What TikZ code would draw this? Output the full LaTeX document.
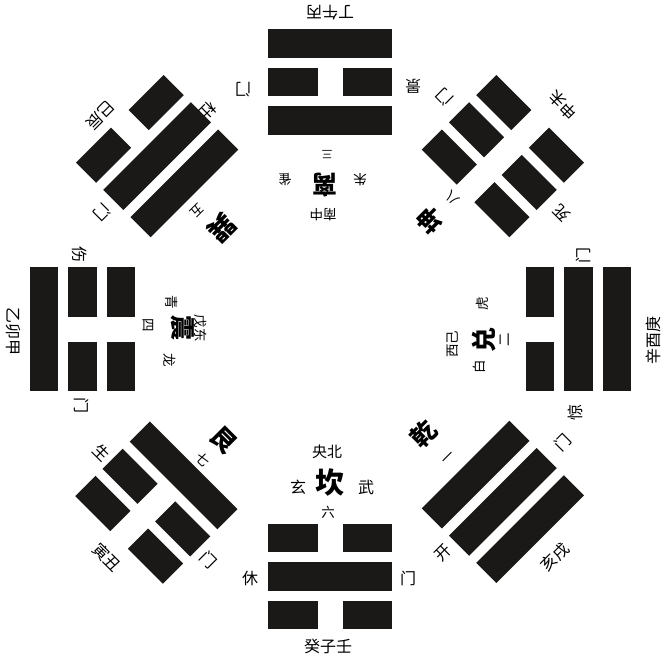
\documentclass[tikz,border=0pt]{standalone}
\usepackage{fontspec}
\newfontfamily\cjk{Noto Sans CJK SC}
\definecolor{yaoc}{HTML}{1B1918}
\tikzset{
  yao/.style={fill=yaoc},
  lab/.style={inner sep=0pt, font=\cjk\fontsize{16}{16}\selectfont},
  sml/.style={inner sep=0pt, font=\cjk\fontsize{13.5}{14}\selectfont},
  big/.style={inner sep=0pt, font=\cjk\bfseries\fontsize{25}{25}\selectfont},
}
\newcommand\yaoline[2]{%
  \ifnum#2=1
    \fill[yao] (268,{329+#1-14.25}) rectangle (392,{329+#1+14.25});
  \else
    \fill[yao] (268,{329+#1-14.25}) rectangle (317.5,{329+#1+14.25});
    \fill[yao] (342.5,{329+#1-14.25}) rectangle (392,{329+#1+14.25});
  \fi}
\newcommand\trig[5]{%
  \begin{scope}[rotate around={#1:(330,329)}]
    \yaoline{#2}{#3}
    \yaoline{#2+38.5}{#4}
    \yaoline{#2+77}{#5}
  \end{scope}}
\begin{document}
\begin{tikzpicture}[x=1pt,y=-1pt]
\useasboundingbox[fill=white] (0,0) rectangle (669,659);
% trigrams: angle, inner distance, inner/middle/outer line
\trig{0}{209}{0}{1}{0}      % Kan
\trig{-45}{207}{1}{0}{0}    % Gen
\trig{-90}{209}{0}{0}{1}    % Zhen
\trig{-135}{206}{1}{1}{0}   % Xun
\trig{180}{208.5}{1}{0}{1}  % Li
\trig{135}{206}{0}{0}{0}    % Kun
\trig{90}{210}{0}{1}{1}     % Dui
\trig{45}{206}{1}{1}{1}     % Qian
% Kan
\node[lab,font=\cjk\fontsize{15}{15}\selectfont] (kan1) at (327,452) {央北};
\node[lab] (kan2) at (298,487) {玄};
\node[big,font=\cjk\bfseries\fontsize{29}{29}\selectfont] (kan) at (330,482) {坎};
\node[lab] (kan3) at (366,487) {武};
\node[sml] (kan4) at (328,512) {六};
\node[lab] (kan5) at (250,578) {休};
\node[lab] (kan6) at (408,578) {门};
\node[lab] (kan7) at (328,646) {癸子壬};
% Gen
\node[big,rotate=-45] (gen) at (224,440) {艮};
\node[sml,rotate=-45] (gen1) at (203,460) {七};
\node[lab,rotate=-45] (gen2) at (102,453) {生};
\node[lab,rotate=-45] (gen3) at (208,560) {门};
\node[lab,rotate=-45] (gen4) at (107,557) {寅丑};
% Zhen
\node[big,rotate=-90] (zhen) at (183,328) {震};
\node[sml,rotate=-90] (zhen1) at (172,302) {青};
\node[sml,rotate=-90] (zhen2) at (170,360) {龙};
\node[sml,rotate=-90] (zhen3) at (148,325) {四};
\node[sml,rotate=-90] (zhen4) at (201,328) {戊东};
\node[lab,rotate=-90] (zhen5) at (80,254) {伤};
\node[lab,rotate=-90] (zhen6) at (82,405) {门};
\node[lab,rotate=-90] (zhen7) at (13,331) {乙卯甲};
% Xun
\node[big,font=\cjk\bfseries\fontsize{27}{27}\selectfont,rotate=-135] (xun) at (222,228) {巽};
\node[sml,rotate=-135] (xun1) at (197,211) {五};
\node[lab,rotate=-135] (xun2) at (208,110) {杜};
\node[lab,rotate=-135] (xun3) at (102,212) {门};
\node[lab,rotate=-135] (xun4) at (100,115) {巳辰};
% Li
\node[big,rotate=180] (li) at (325,185) {离};
\node[sml,font=\cjk\fontsize{11}{11}\selectfont,rotate=180] (li1) at (327,155) {三};
\node[sml,rotate=180] (li2) at (360,180) {朱};
\node[sml,rotate=180] (li3) at (285,180) {雀};
\node[sml,rotate=180] (li4) at (323,215) {南中};
\node[lab,rotate=180] (li5) at (413,86) {景};
\node[lab,rotate=180] (li6) at (243,90) {门};
\node[lab,rotate=180] (li7) at (330,13) {丁午丙};
% Kun
\node[big,rotate=135] (kun) at (430,220) {坤};
\node[sml,rotate=135] (kun1) at (452,198) {八};
\node[lab,rotate=135] (kun2) at (562,213) {死};
\node[lab,rotate=135] (kun3) at (445,97) {门};
\node[lab,rotate=135] (kun4) at (563,105) {申未};
% Dui
\node[big,rotate=90] (dui) at (484,340) {兑};
\node[sml,rotate=90] (dui1) at (505,340) {二};
\node[sml,rotate=90] (dui2) at (479,367) {白};
\node[sml,rotate=90] (dui3) at (482,304) {虎};
\node[sml,rotate=90] (dui4) at (453,344) {西己};
\node[lab,rotate=90] (dui5) at (583,255) {门};
\node[lab,rotate=90] (dui6) at (575,412) {惊};
\node[lab,rotate=90] (dui7) at (653,340) {辛酉庚};
% Qian
\node[big,rotate=45] (qian) at (424,434) {乾};
\node[sml,rotate=45] (qian1) at (449,459) {一};
\node[lab,rotate=45] (qian2) at (443,553) {开};
\node[lab,rotate=45] (qian3) at (563,443) {门};
\node[lab,rotate=45] (qian4) at (555,557) {亥戌};
\end{tikzpicture}
\end{document}
